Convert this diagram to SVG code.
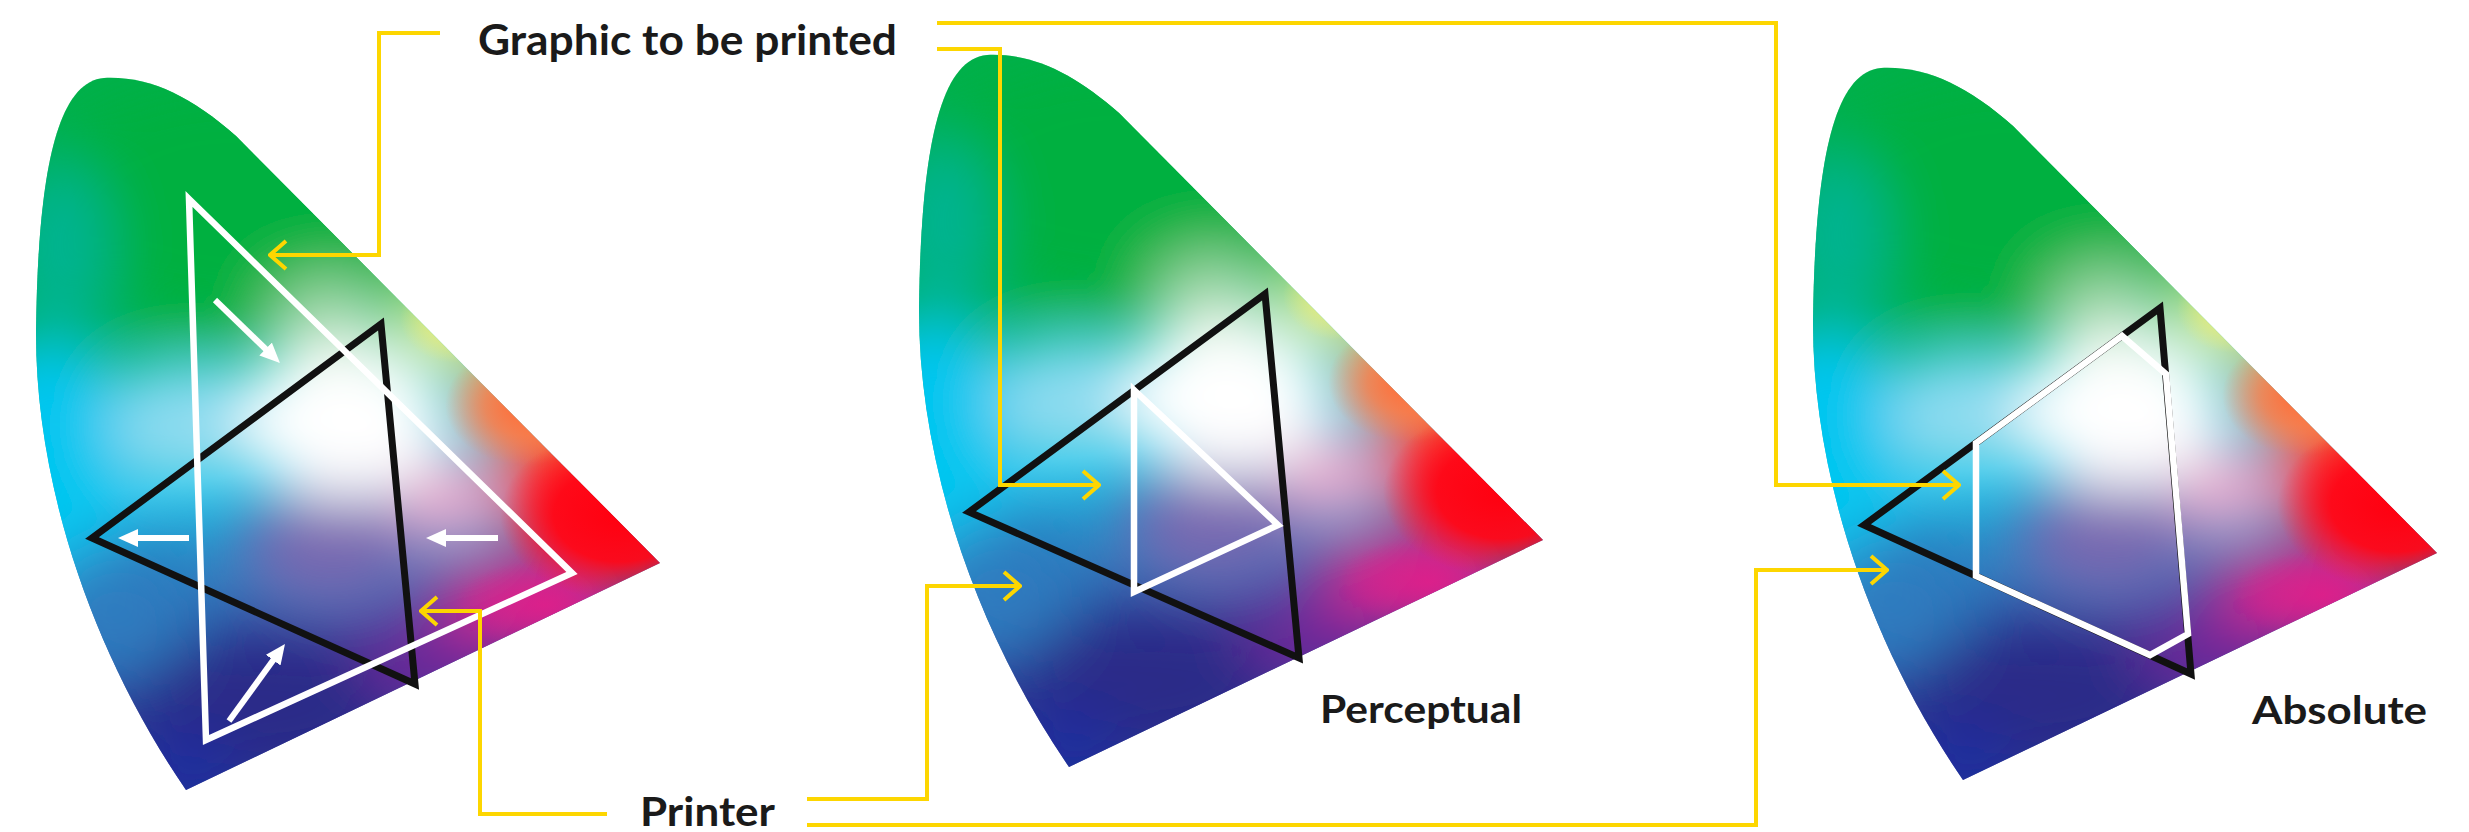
<svg xmlns="http://www.w3.org/2000/svg" xmlns:xlink="http://www.w3.org/1999/xlink" width="2469" height="832" viewBox="0 0 2469 832">
<style>
.lbl{font-family:Lato,"Open Sans","Liberation Sans",sans-serif;font-weight:700;fill:#1a1a1a}
.conn{fill:none;stroke:#fdd600;stroke-width:4;stroke-linejoin:miter}
.blk{fill:none;stroke:#111;stroke-width:7;stroke-linejoin:miter}
.wht{fill:none;stroke:#fff;stroke-width:6.5;stroke-linejoin:miter}
.warr{fill:none;stroke:#fff;stroke-width:6}
</style>
<defs>
<clipPath id="gclip"><path d="M660,563 L236,136 C190,96 150,76 104,78 C55,82 38,180 36,330 C35,480 90,650 186,790 Z"/></clipPath>
<linearGradient id="gbase" gradientUnits="userSpaceOnUse" x1="100" y1="80" x2="200" y2="790">
<stop offset="0" stop-color="#00b04c"/>
<stop offset="0.32" stop-color="#00b25a"/>
<stop offset="0.47" stop-color="#10bcc0"/>
<stop offset="0.57" stop-color="#18c2e8"/>
<stop offset="0.72" stop-color="#2a7abd"/>
<stop offset="0.86" stop-color="#2a3a96"/>
<stop offset="1" stop-color="#23308f"/>
</linearGradient>
<radialGradient id="rred">
<stop offset="0" stop-color="#ff0010"/>
<stop offset="0.55" stop-color="#ff0818" stop-opacity="0.95"/>
<stop offset="1" stop-color="#ff2030" stop-opacity="0"/>
</radialGradient>
<radialGradient id="rorg">
<stop offset="0" stop-color="#ff6a38"/>
<stop offset="0.5" stop-color="#ff7a45" stop-opacity="0.7"/>
<stop offset="1" stop-color="#ff8050" stop-opacity="0"/>
</radialGradient>
<radialGradient id="ryel">
<stop offset="0" stop-color="#f4ef70" stop-opacity="0.9"/>
<stop offset="1" stop-color="#f4ef70" stop-opacity="0"/>
</radialGradient>
<radialGradient id="rmag">
<stop offset="0" stop-color="#de1f8a" stop-opacity="0.9"/>
<stop offset="1" stop-color="#de1f8a" stop-opacity="0"/>
</radialGradient>
<filter id="blur" filterUnits="userSpaceOnUse" x="-100" y="-100" width="900" height="1000"><feGaussianBlur stdDeviation="30"/></filter>
<marker id="chev" markerUnits="userSpaceOnUse" viewBox="0 0 20 32" markerWidth="20" markerHeight="32" refX="18" refY="16" orient="auto"><path d="M2,2 L18,16 L2,30" fill="none" stroke="#fdd600" stroke-width="4"/></marker>
<marker id="wtip" markerUnits="userSpaceOnUse" viewBox="0 0 20 18" markerWidth="20" markerHeight="18" refX="10" refY="9" orient="auto"><path d="M0,0 L20,9 L0,18 Z" fill="#fff"/></marker>
<g id="gamut-art">
<g clip-path="url(#gclip)">
<rect x="0" y="60" width="700" height="760" fill="url(#gbase)"/>
<g filter="url(#blur)">
<ellipse cx="230" cy="200" rx="200" ry="130" fill="#00b040"/>
<ellipse cx="60" cy="250" rx="50" ry="90" fill="#00b493"/>
<ellipse cx="50" cy="460" rx="80" ry="120" fill="#00c6f0"/>
<ellipse cx="190" cy="425" rx="80" ry="60" fill="#8fdcf0"/>
<ellipse cx="120" cy="615" rx="80" ry="70" fill="#2f7cbf"/>
<ellipse cx="330" cy="320" rx="60" ry="45" fill="#9cd8a8"/>
<ellipse cx="455" cy="320" rx="55" ry="45" fill="#f4f080"/>
<ellipse cx="525" cy="405" rx="60" ry="45" fill="#ff8a48"/>
<ellipse cx="590" cy="490" rx="90" ry="60" fill="#ff1010"/>
<ellipse cx="450" cy="500" rx="55" ry="45" fill="#f0a8cc"/>
<ellipse cx="530" cy="600" rx="100" ry="40" fill="#e0238c"/>
<ellipse cx="420" cy="665" rx="90" ry="45" fill="#6e2a9a"/>
<ellipse cx="260" cy="705" rx="130" ry="70" fill="#2a2b88"/>
<ellipse cx="330" cy="550" rx="90" ry="60" fill="#7868b0"/>
<ellipse cx="345" cy="420" rx="105" ry="80" fill="#ffffff"/>
<ellipse cx="185" cy="770" rx="50" ry="40" fill="#1f2fa0"/>
</g>
<ellipse cx="455" cy="318" rx="55" ry="45" fill="url(#ryel)"/>
<ellipse cx="525" cy="405" rx="80" ry="60" fill="url(#rorg)"/>
<ellipse cx="545" cy="605" rx="90" ry="45" fill="url(#rmag)"/>
<ellipse cx="620" cy="515" rx="120" ry="85" fill="url(#rred)"/>
</g>
</g>
</defs>
<rect width="2469" height="832" fill="#fff"/>

<g id="gamut-graphic">
<use xlink:href="#gamut-art" href="#gamut-art"/>
<polygon class="blk" points="92,538 381,324 415,684"/>
<polygon class="wht" points="189,199 572,573 206,740"/>
<line class="warr" x1="215" y1="300" x2="272.8" y2="356" marker-end="url(#wtip)"/>
<line class="warr" x1="189" y1="538" x2="128" y2="538" marker-end="url(#wtip)"/>
<line class="warr" x1="498" y1="538" x2="436" y2="538" marker-end="url(#wtip)"/>
<line class="warr" x1="229" y1="721" x2="279.1" y2="652.1" marker-end="url(#wtip)"/>
</g>

<g id="gamut-perceptual">
<use xlink:href="#gamut-art" href="#gamut-art" transform="translate(883,-23)"/>
<polygon class="blk" points="969,512 1265,294 1299,658"/>
<polygon class="wht" points="1134,390 1278,525 1134,592"/>
</g>

<g id="gamut-absolute">
<use xlink:href="#gamut-art" href="#gamut-art" transform="translate(1777,-10)"/>
<polygon class="blk" points="1864,525 2160,308 2191,674"/>
<polygon class="wht" points="1976,443 2122,336 2166,374 2188,634 2150,655 1976,576"/>
</g>

<g id="connectors">
<path class="conn" d="M440,33 H379 V255 H270" marker-end="url(#chev)"/>
<path class="conn" d="M937,49 H1000 V485 H1099" marker-end="url(#chev)"/>
<path class="conn" d="M937,23 H1776 V485 H1959" marker-end="url(#chev)"/>
<path class="conn" d="M607,814 H480 V611 H421" marker-end="url(#chev)"/>
<path class="conn" d="M807,799 H927 V586 H1020" marker-end="url(#chev)"/>
<path class="conn" d="M807,825 H1756 V570 H1887" marker-end="url(#chev)"/>
</g>

<g id="label-graphic"><text class="lbl" x="478" y="55" font-size="42" textLength="419" lengthAdjust="spacingAndGlyphs">Graphic to be printed</text></g>
<g id="label-printer"><text class="lbl" x="640" y="826" font-size="40" textLength="135" lengthAdjust="spacingAndGlyphs">Printer</text></g>
<g id="label-perceptual"><text class="lbl" x="1320" y="723" font-size="39" textLength="202" lengthAdjust="spacingAndGlyphs">Perceptual</text></g>
<g id="label-absolute"><text class="lbl" x="2252" y="724" font-size="39" textLength="175" lengthAdjust="spacingAndGlyphs">Absolute</text></g>
</svg>
